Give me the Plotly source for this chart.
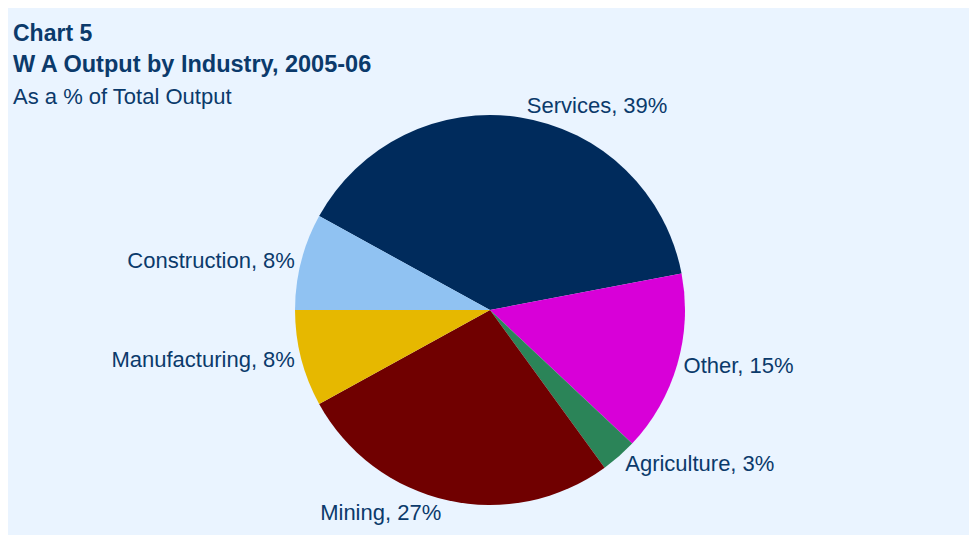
import plotly.graph_objects as go

industries = ["Services", "Other", "Agriculture", "Mining", "Manufacturing", "Construction"]
shares = [39, 15, 3, 27, 8, 8]
slice_colors = ["#002b5c", "#d800d8", "#2b8458", "#700000", "#e6b800", "#90c2f2"]

title_line1 = "Chart 5"
title_line2 = "W A Output by Industry, 2005-06"
subtitle = "As a % of Total Output"

# the page body adds an 8px white border, which plays the role of the
# white frame around the light-blue chart area
W, H = 965, 527
FONT = "Liberation Sans, Arial, sans-serif"
NAVY = "#0b3a6b"

fig = go.Figure()
fig.add_trace(go.Pie(
    labels=industries,
    values=shares,
    sort=False,
    direction="clockwise",
    rotation=-61.2,
    marker=dict(colors=slice_colors, line=dict(width=0)),
    texttemplate="%{label}, %{value}%",
    textposition="outside",
    automargin=False,
    textfont=dict(family=FONT, size=22, color=NAVY),
    hoverinfo="label+value",
    showlegend=False,
    domain=dict(x=[0.1995, 0.7995], y=[0.0569, 0.7969]),
))

fig.add_annotation(text="<b>" + title_line1 + "</b>", xref="paper", yref="paper",
                   x=3 / W, y=1 - 10 / H, xanchor="left", yanchor="top", showarrow=False,
                   font=dict(family=FONT, size=23, color=NAVY))
fig.add_annotation(text="<b>" + title_line2 + "</b>", xref="paper", yref="paper",
                   x=3 / W, y=1 - 41 / H, xanchor="left", yanchor="top", showarrow=False,
                   font=dict(family=FONT, size=23.5, color=NAVY))
fig.add_annotation(text=subtitle, xref="paper", yref="paper",
                   x=3 / W, y=1 - 74 / H, xanchor="left", yanchor="top", showarrow=False,
                   font=dict(family=FONT, size=22, color=NAVY))

fig.update_layout(
    width=W, height=H,
    margin=dict(l=0, r=0, t=0, b=0, autoexpand=False),
    paper_bgcolor="#eaf4ff",
    plot_bgcolor="#eaf4ff",
)

fig.write_html("out.html")
